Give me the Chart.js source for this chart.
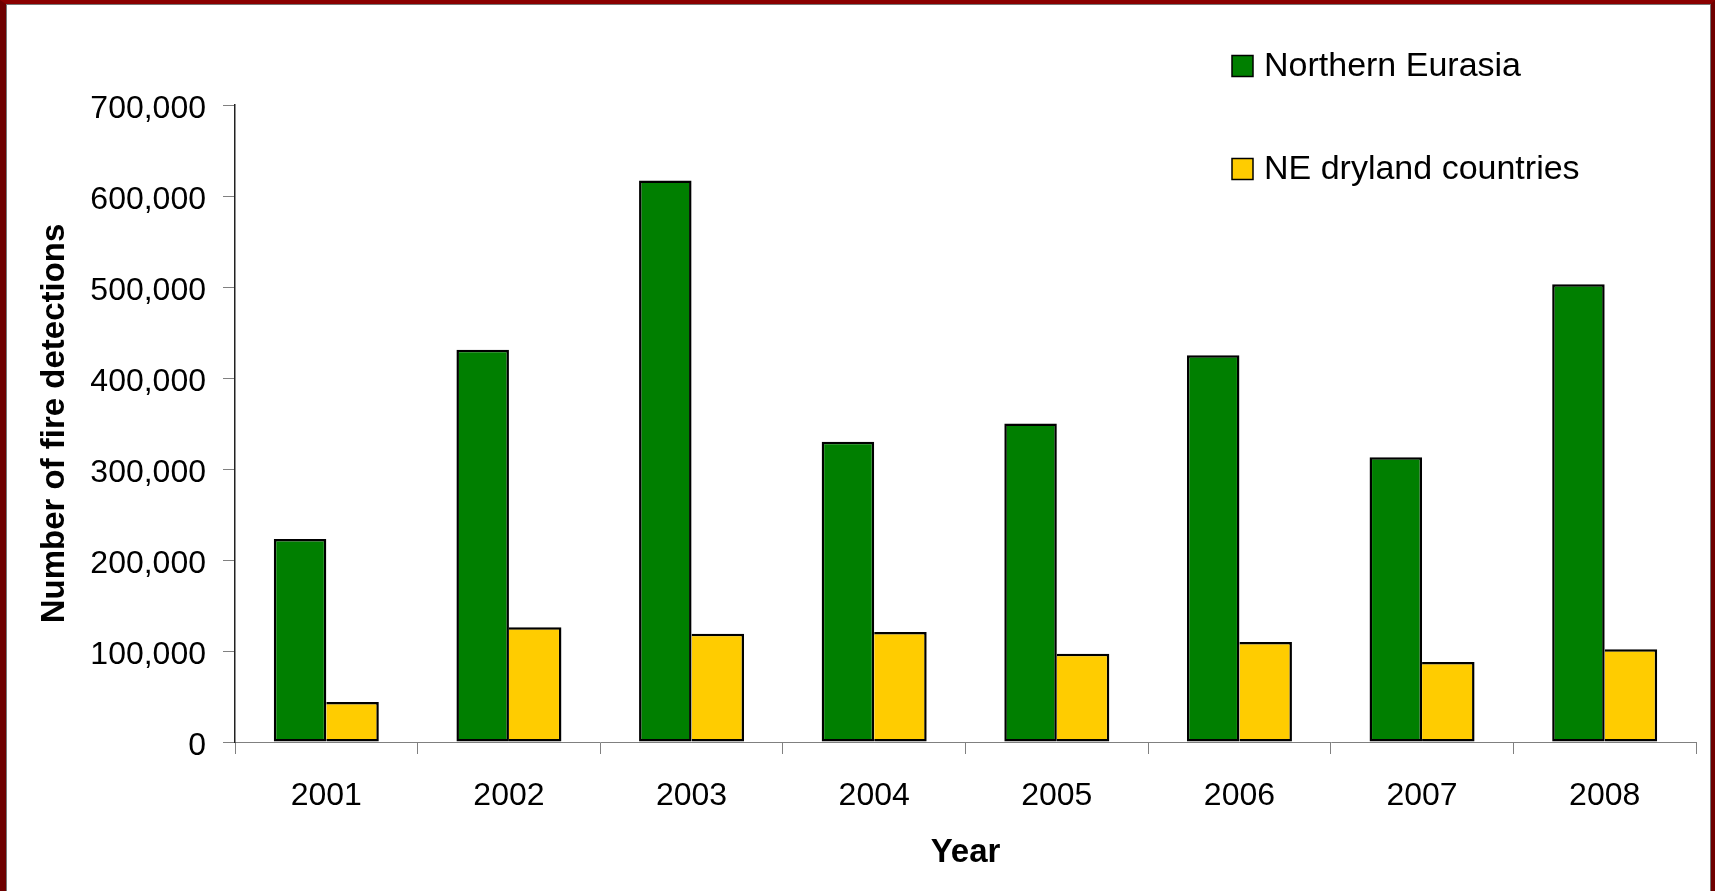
<!DOCTYPE html>
<html>
<head>
<meta charset="utf-8">
<title>Fire detections</title>
<script src="https://cdn.jsdelivr.net/npm/chart.js@4.4.1/dist/chart.umd.min.js"></script>
<style>
  html, body { margin: 0; padding: 0; background: #fff; overflow: hidden; }
  #frame {
    position: absolute; left: 0; top: 0; width: 1715px; height: 910px;
    box-sizing: border-box;
    border-left: 6px solid #6e0000; border-top: 4px solid #8a0000; border-right: 4px solid #6e0000;
  }
  #frame-inner {
    position: absolute; left: 0; top: 0; right: 0; bottom: 0;
    border-left: 1px solid #777; border-top: 1px solid #777; border-right: 1px solid #777;
  }
  #wrap { position: absolute; left: 0; top: 0; width: 1715px; height: 891px; }
</style>
</head>
<body>
<div id="frame"><div id="frame-inner"></div></div>
<div id="wrap"><canvas id="fires"></canvas></div>
<script>
// fire detections per year
const years = ['2001', '2002', '2003', '2004', '2005', '2006', '2007', '2008'];
const northernEurasia = [223000, 431000, 617000, 330000, 350000, 425000, 313000, 503000];
const drylandCountries = [44000, 126000, 119000, 121000, 97000, 110000, 88000, 102000];
const seriesNames = ['Northern Eurasia', 'NE dryland countries'];

const FONT = '"Liberation Sans", Arial, sans-serif';

// legend drawn at the top right, partly over the plot
const sideLegend = {
  id: 'sideLegend',
  afterDraw(chart) {
    const ctx = chart.ctx;
    const rows = [66, 169];
    ctx.save();
    chart.data.datasets.forEach((ds, i) => {
      const y = rows[i];
      ctx.fillStyle = ds.backgroundColor;
      ctx.fillRect(1232, y - 10.5, 21, 21);
      ctx.lineWidth = 1.5;
      ctx.strokeStyle = '#000';
      ctx.strokeRect(1232, y - 10.5, 21, 21);
      ctx.fillStyle = '#000';
      ctx.font = '34px ' + FONT;
      ctx.textBaseline = 'middle';
      ctx.textAlign = 'left';
      ctx.fillText(ds.label, 1264, y + 1);
    });
    ctx.restore();
  }
};

const ctx = document.getElementById('fires').getContext('2d');
new Chart(ctx, {
  type: 'bar',
  data: {
    labels: years,
    datasets: [
      {
        label: seriesNames[0],
        data: northernEurasia,
        backgroundColor: '#007f00',
        borderColor: '#000',
        // the shared edge with the yellow bar is drawn only once
        borderWidth: { top: 2.5, left: 2.5, right: 2.5, bottom: 2.5 },
        borderSkipped: false,
      },
      {
        label: seriesNames[1],
        data: drylandCountries,
        backgroundColor: '#ffcc00',
        borderColor: '#000',
        borderWidth: { top: 2.5, left: 0, right: 2.5, bottom: 2.5 },
        borderSkipped: false,
      },
    ],
  },
  options: {
    responsive: true,
    maintainAspectRatio: false,
    animation: false,
    datasets: { bar: { categoryPercentage: 0.575, barPercentage: 1.0 } },
    layout: { padding: { top: 105, right: 19, left: 0, bottom: 0 } },
    plugins: {
      legend: { display: false },
      tooltip: { enabled: false },
    },
    scales: {
      x: {
        grid: { display: true, drawOnChartArea: false, drawTicks: true, tickLength: 12, color: '#808080', offset: true },
        border: { color: '#808080', width: 1 },
        ticks: { color: '#000', padding: 23, font: { family: FONT, size: 32 } },
        title: {
          display: true, text: 'Year', color: '#000',
          font: { family: FONT, size: 33, weight: 'bold', lineHeight: 1.2 },
          padding: { top: 0, bottom: 18 },
        },
        afterFit(scale) { scale.height = 149; },
      },
      y: {
        min: 0,
        max: 700000,
        grid: { display: true, drawOnChartArea: false, drawTicks: true, tickLength: 12, color: '#808080' },
        border: { color: '#222', width: 1.5 },
        ticks: {
          stepSize: 100000,
          color: '#000',
          padding: 17,
          labelOffset: 4,
          font: { family: FONT, size: 32 },
          callback: (v) => v.toLocaleString('en-US'),
        },
        title: {
          display: true, text: 'Number of fire detections', color: '#000',
          font: { family: FONT, size: 33, weight: 'bold', lineHeight: 1.2 },
          padding: { top: 35, bottom: 0 },
        },
        afterFit(scale) { scale.width = 235; },
      },
    },
  },
  plugins: [sideLegend],
});
</script>
</body>
</html>
